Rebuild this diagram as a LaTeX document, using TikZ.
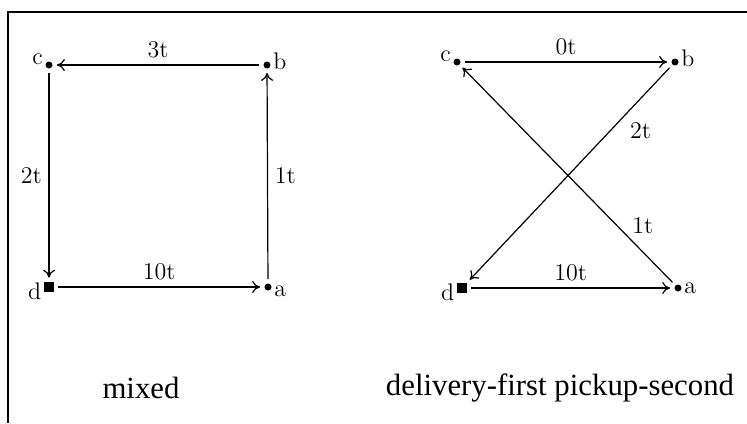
\documentclass[tikz,border=0pt]{standalone}
\usepackage{fontspec}
\newfontfamily\capfont{Liberation Serif}
\usetikzlibrary{arrows.meta, positioning}
\tikzset{
    >={To[length=4pt,width=6pt]}, % open arrow heads like the hand drawing
    stop/.style={circle, fill, inner sep=0pt, minimum size=3.5pt},
    depot/.style={rectangle, fill, inner sep=0pt, minimum size=5pt},
    letter/.style={font=\large, inner sep=1pt},
    route/.style={->, line width=0.6pt, shorten >=2pt, shorten <=2pt},
    cost/.style={font=\large},
    caption/.style={font=\capfont\fontsize{15.4}{18}\selectfont},
    frame/.style={line width=1pt}
}

\begin{document}
\begin{tikzpicture}[x=0.5pt,y=-0.5pt]
    \useasboundingbox (0,0) rectangle (747,423);
    \draw[frame] (747,12) -- (8,12) -- (8,423);

    % mixed
    \node[stop, label={[letter, yshift=3pt]left:c}] (c1) at (49,65) {};
    \node[stop, label={[letter, yshift=2pt]right:b}] (b1) at (267,65) {};
    \node[depot, label={[letter, yshift=-2pt]left:d}] (d1) at (49,287) {};
    \node[stop, label={[letter, yshift=-2pt]right:a}] (a1) at (268,287) {};

    \draw[route] (b1) -- node[cost, above] {3t} (c1);
    \draw[route] (c1) -- node[cost, left] {2t} (d1);
    \draw[route] (d1) -- node[cost, above] {10t} (a1);
    \draw[route] (a1) -- node[cost, right] {1t} (b1);

    % delivery-first pickup-second
    \node[stop, label={[letter, yshift=3pt]left:c}] (c2) at (457,62) {};
    \node[stop, label={[letter, yshift=2pt]right:b}] (b2) at (675,62) {};
    \node[depot, label={[letter, yshift=-2pt]left:d}] (d2) at (462,288) {};
    \node[stop, label={[letter]right:a}] (a2) at (678,288) {};

    \draw[route] (c2) -- node[cost, above] {0t} (b2);
    \draw[route] (b2) -- node[cost, pos=0.3, right=6pt] {2t} (d2);
    \draw[route] (a2) -- node[cost, pos=0.27, right=4pt] {1t} (c2);
    \draw[route] (d2) -- node[cost, above] {10t} (a2);

    \node[caption] (mixcap) at (141,388) {mixed};
    \node[caption] (dfcap) at (560,388) {delivery-first pickup-second};
\end{tikzpicture}
\end{document}
